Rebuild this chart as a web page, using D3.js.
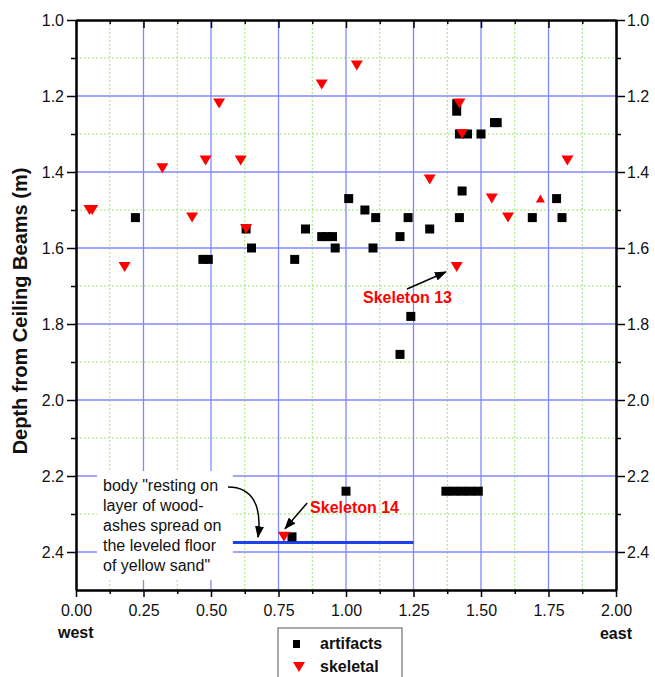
<!DOCTYPE html>
<html>
<head>
<meta charset="utf-8">
<script src="https://cdn.jsdelivr.net/npm/d3@7"></script>
<style>
  body { margin: 0; background: #fff; }
  text { font-family: "Liberation Sans", Arial, sans-serif; }
</style>
</head>
<body>
<div id="chart"></div>
<script>
// artifacts: [position east-west (m), depth (m)]
const artifacts = [
  [0.22, 1.52], [0.47, 1.63], [0.49, 1.63], [0.63, 1.55], [0.65, 1.60],
  [0.81, 1.63], [0.85, 1.55], [0.91, 1.57], [0.93, 1.57], [0.95, 1.57],
  [0.96, 1.60], [1.01, 1.47], [1.07, 1.50], [1.10, 1.60], [1.11, 1.52],
  [1.20, 1.57], [1.23, 1.52], [1.31, 1.55], [1.24, 1.78], [1.20, 1.88],
  [1.41, 1.22], [1.41, 1.24], [1.42, 1.30], [1.45, 1.30], [1.50, 1.30],
  [1.55, 1.27], [1.56, 1.27], [1.43, 1.45], [1.42, 1.52], [1.69, 1.52],
  [1.78, 1.47], [1.80, 1.52],
  [1.00, 2.24], [1.37, 2.24], [1.40, 2.24], [1.43, 2.24], [1.46, 2.24], [1.49, 2.24],
  [0.80, 2.36]
];
// skeletal finds
const skeletal = [
  [0.05, 1.50], [0.06, 1.50], [0.18, 1.65], [0.32, 1.39], [0.43, 1.52],
  [0.48, 1.37], [0.53, 1.22], [0.61, 1.37], [0.63, 1.55], [0.91, 1.17],
  [1.04, 1.12], [1.31, 1.42], [1.41, 1.65], [1.42, 1.22], [1.43, 1.30],
  [1.54, 1.47], [1.60, 1.52], [1.82, 1.37], [0.77, 2.36]
];
const skeletalUp = [[1.72, 1.47]];

const xMajor = [0, 0.25, 0.5, 0.75, 1.0, 1.25, 1.5, 1.75, 2.0];
const xMinor = [0.125, 0.375, 0.625, 0.875, 1.125, 1.375, 1.625, 1.875];
const yMajor = [1.0, 1.2, 1.4, 1.6, 1.8, 2.0, 2.2, 2.4];
const yMinor = [1.1, 1.3, 1.5, 1.7, 1.9, 2.1, 2.3];

// floor of yellow sand
const floorLine = [{x1: 0.5, x2: 1.25, y: 2.375}];

const bodyNote = ["body \"resting on", "layer of wood-", "ashes spread on", "the leveled floor", "of yellow sand\""];

const width = 655, height = 677;
const margin = {top: 20, right: 39, bottom: 87, left: 76};

const svg = d3.select("#chart").append("svg")
  .attr("width", width)
  .attr("height", height);

const x = d3.scaleLinear().domain([0, 2]).range([margin.left, width - margin.right]);
const y = d3.scaleLinear().domain([1.0, 2.5]).range([margin.top, height - margin.bottom]);

const defs = svg.append("defs");
defs.append("marker")
  .attr("id", "arrow")
  .attr("markerUnits", "userSpaceOnUse")
  .attr("markerWidth", 12).attr("markerHeight", 9)
  .attr("refX", 11).attr("refY", 4.5)
  .attr("orient", "auto")
  .append("path")
  .attr("d", "M0,0L12,4.5L0,9Z")
  .attr("fill", "#000");

// grid
const grid = svg.append("g");
grid.selectAll(".vmin").data(xMinor).enter().append("line")
  .attr("x1", d => x(d)).attr("x2", d => x(d))
  .attr("y1", y(1.0)).attr("y2", y(2.5))
  .attr("stroke", "#9be866").attr("stroke-width", 1).attr("stroke-dasharray", "2,2");
grid.selectAll(".hmin").data(yMinor).enter().append("line")
  .attr("x1", x(0)).attr("x2", x(2))
  .attr("y1", d => y(d)).attr("y2", d => y(d))
  .attr("stroke", "#9be866").attr("stroke-width", 1).attr("stroke-dasharray", "2,2");
grid.selectAll(".vmaj").data(xMajor.slice(1, -1)).enter().append("line")
  .attr("x1", d => x(d)).attr("x2", d => x(d))
  .attr("y1", y(1.0)).attr("y2", y(2.5))
  .attr("stroke", "#8088ff").attr("stroke-width", 1.3);
grid.selectAll(".hmaj").data(yMajor.slice(1)).enter().append("line")
  .attr("x1", x(0)).attr("x2", x(2))
  .attr("y1", d => y(d)).attr("y2", d => y(d))
  .attr("stroke", "#8088ff").attr("stroke-width", 1.3);

// floor line
svg.selectAll(".floor").data(floorLine).enter().append("line")
  .attr("x1", d => x(d.x1)).attr("x2", d => x(d.x2))
  .attr("y1", d => y(d.y)).attr("y2", d => y(d.y))
  .attr("stroke", "#2040f0").attr("stroke-width", 3);

// white box behind the note
svg.append("rect")
  .attr("x", x(0.078)).attr("y", y(2.187))
  .attr("width", x(0.581) - x(0.078))
  .attr("height", y(2.474) - y(2.187))
  .attr("fill", "#fff");

svg.append("text")
  .attr("font-size", 16)
  .attr("fill", "#111")
  .selectAll("tspan").data(bodyNote).enter().append("tspan")
  .attr("x", x(0.10))
  .attr("y", (d, i) => y(2.2395 + i * 0.0526))
  .text(d => d);

// points
const tri = "M-6,-5L6,-5L0,5Z";
const triUp = "M-4.5,4L4.5,4L0,-4Z";

svg.selectAll(".art").data(artifacts).enter().append("rect")
  .attr("x", d => x(d[0]) - 4.5)
  .attr("y", d => y(d[1]) - 4.5)
  .attr("width", 9).attr("height", 9)
  .attr("fill", "#000");

svg.selectAll(".skel").data(skeletal).enter().append("path")
  .attr("d", tri)
  .attr("transform", d => `translate(${x(d[0])},${y(d[1])})`)
  .attr("fill", "#ff0000");

svg.selectAll(".skelup").data(skeletalUp).enter().append("path")
  .attr("d", triUp)
  .attr("transform", d => `translate(${x(d[0])},${y(d[1])})`)
  .attr("fill", "#ff0000");

// axes
function styleAxis(g) {
  g.select(".domain").attr("stroke", "#000").attr("stroke-width", 2);
  g.selectAll(".tick line").attr("stroke", "#000").attr("stroke-width", 1.5);
  g.selectAll(".tick text").attr("font-size", 16).attr("fill", "#111")
    .attr("font-family", "'Liberation Sans', Arial, sans-serif");
}

svg.append("g").attr("transform", `translate(0,${y(2.5)})`)
  .call(d3.axisBottom(x).tickValues(xMinor).tickSize(4).tickSizeOuter(0).tickFormat(""))
  .call(styleAxis);
svg.append("g").attr("transform", `translate(0,${y(2.5)})`)
  .call(d3.axisBottom(x).tickValues(xMajor).tickSize(7).tickPadding(8).tickSizeOuter(0).tickFormat(d3.format(".2f")))
  .call(styleAxis);

svg.append("g").attr("transform", `translate(0,${y(1.0)})`)
  .call(d3.axisTop(x).tickValues(xMinor).tickSize(-4).tickSizeOuter(0).tickFormat(""))
  .call(styleAxis);
svg.append("g").attr("transform", `translate(0,${y(1.0)})`)
  .call(d3.axisTop(x).tickValues(xMajor).tickSize(-8).tickSizeOuter(0).tickFormat(""))
  .call(styleAxis);

svg.append("g").attr("transform", `translate(${x(0)},0)`)
  .call(d3.axisLeft(y).tickValues(yMinor).tickSize(5).tickSizeOuter(0).tickFormat(""))
  .call(styleAxis);
svg.append("g").attr("transform", `translate(${x(0)},0)`)
  .call(d3.axisLeft(y).tickValues(yMajor).tickSize(9).tickPadding(3).tickSizeOuter(0).tickFormat(d3.format(".1f")))
  .call(styleAxis);

svg.append("g").attr("transform", `translate(${x(2)},0)`)
  .call(d3.axisRight(y).tickValues(yMinor).tickSize(5).tickSizeOuter(0).tickFormat(""))
  .call(styleAxis);
svg.append("g").attr("transform", `translate(${x(2)},0)`)
  .call(d3.axisRight(y).tickValues(yMajor).tickSize(9).tickPadding(2).tickSizeOuter(0).tickFormat(d3.format(".1f")))
  .call(styleAxis);

// axis titles
svg.append("text")
  .attr("transform", `translate(27,${(y(1.0) + y(2.5)) / 2 + 6}) rotate(-90)`)
  .attr("text-anchor", "middle")
  .attr("font-size", 20).attr("font-weight", "bold").attr("fill", "#111")
  .text("Depth from Ceiling Beams (m)");

svg.append("text")
  .attr("x", 58).attr("y", 638)
  .attr("font-size", 16).attr("font-weight", "bold").attr("fill", "#111")
  .text("west");
svg.append("text")
  .attr("x", 632).attr("y", 639)
  .attr("text-anchor", "end")
  .attr("font-size", 16).attr("font-weight", "bold").attr("fill", "#111")
  .text("east");

// annotations
svg.append("text")
  .attr("x", x(1.063)).attr("y", y(1.745))
  .attr("font-size", 16).attr("font-weight", "bold").attr("fill", "#ff0000")
  .text("Skeleton 13");
svg.append("line")
  .attr("x1", x(1.226)).attr("y1", y(1.708))
  .attr("x2", x(1.370)).attr("y2", y(1.663))
  .attr("stroke", "#000").attr("stroke-width", 1.5)
  .attr("marker-end", "url(#arrow)");

svg.append("text")
  .attr("x", x(0.867)).attr("y", y(2.297))
  .attr("font-size", 16).attr("font-weight", "bold").attr("fill", "#ff0000")
  .text("Skeleton 14");
svg.append("line")
  .attr("x1", x(0.856)).attr("y1", y(2.271))
  .attr("x2", x(0.774)).attr("y2", y(2.339))
  .attr("stroke", "#000").attr("stroke-width", 1.5)
  .attr("marker-end", "url(#arrow)");

svg.append("path")
  .attr("d", `M${x(0.563)},${y(2.229)} C${x(0.655)},${y(2.229)} ${x(0.69)},${y(2.28)} ${x(0.674)},${y(2.361)}`)
  .attr("fill", "none")
  .attr("stroke", "#000").attr("stroke-width", 1.5)
  .attr("marker-end", "url(#arrow)");

// legend
const legend = svg.append("g").attr("transform", "translate(278,628)");
legend.append("rect")
  .attr("width", 124).attr("height", 60)
  .attr("fill", "#fff").attr("stroke", "#555").attr("stroke-width", 1);
legend.append("rect")
  .attr("x", 15).attr("y", 12).attr("width", 7).attr("height", 8)
  .attr("fill", "#000");
legend.append("path")
  .attr("d", tri)
  .attr("transform", "translate(21,39)")
  .attr("fill", "#ff0000");
legend.append("text")
  .attr("x", 42).attr("y", 21)
  .attr("font-size", 16).attr("font-weight", "bold").attr("fill", "#111")
  .text("artifacts");
legend.append("text")
  .attr("x", 42).attr("y", 44)
  .attr("font-size", 16).attr("font-weight", "bold").attr("fill", "#111")
  .text("skeletal");
</script>
</body>
</html>
